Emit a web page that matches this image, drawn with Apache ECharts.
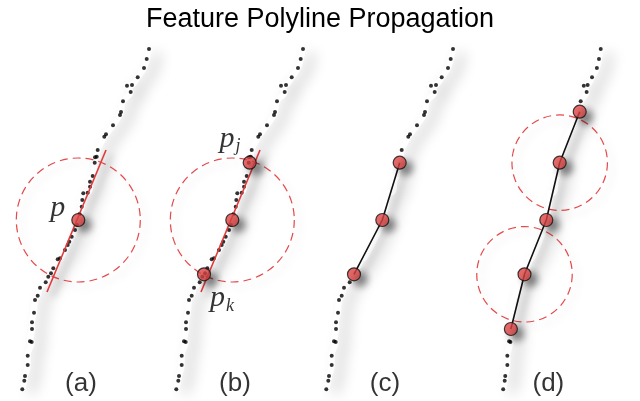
<!DOCTYPE html>
<html>
<head>
<meta charset="utf-8">
<script src="https://cdn.jsdelivr.net/npm/echarts@6/dist/echarts.min.js"></script>
<style>
  html, body { margin: 0; padding: 0; background: #fff; }
  #main { width: 640px; height: 401px; }
</style>
</head>
<body>
<div id="main"></div>
<script>
// panel names and their left edge (px) - every panel shows the same sampled curve
var panelNames = ['(a)', '(b)', '(c)', '(d)'];
var panelLeft = [0, 154, 304, 486];

var curveDots = [
  [149, 49], [146.7, 59], [144, 68], [137.7, 77.3], [132, 85], [127, 85.7], [130.7, 92],
  [123, 101.3], [121, 112], [120, 115], [113, 125.3], [106, 134.3], [104.3, 136.7],
  [97.7, 150], [96.7, 156.7], [95, 157.3], [94.7, 162.7], [92.7, 176], [90, 181.7],
  [90, 186.7], [87.7, 192.7], [83.3, 193.3], [82.3, 200], [81.7, 206.7], [79.5, 214],
  [77, 225], [75, 230], [71.7, 236.7], [69.3, 241.7], [67.7, 245], [65, 250], [60, 258.3],
  [57.7, 259.3], [53.3, 268.3], [51, 273.3], [48.3, 276.7], [45.7, 282.3], [40, 287.7],
  [37.7, 295.7], [35, 300], [34, 312.7], [32, 322.3], [32, 329], [30, 341.3], [31.7, 342],
  [27.7, 355.7], [27.7, 365], [25, 376], [24.3, 380.7], [22.3, 389.3]
];

// polyline nodes (bottom to top)
var nodes = [[32.3, 329], [50, 274.3], [78.3, 220], [95.7, 162.7], [121.7, 111.7]];
var tangent = [[106, 150], [47, 292]];
var radius = 62;
var captionPos = [81, 384];

// what each panel shows
var shownNodes = [[2], [1, 2, 3], [1, 2, 3], [0, 1, 2, 3, 4]];
var circleNodes = [[2], [2], [], [1, 3]];
var polyNodes = [[], [], [1, 2, 3], [0, 1, 2, 3, 4]];
var hasTangent = [true, true, false, false];
var hiddenDots = [null, null, [151, 280], [104, 336]];
var nodeNames = [{2: ['p', '']}, {3: ['p', 'j'], 1: ['p', 'k']}, {}, {}];

var shadow = { shadowColor: 'rgba(0,0,0,0.55)', shadowBlur: 7, shadowOffsetX: 6, shadowOffsetY: 5 };

var myChart = echarts.init(document.getElementById('main'));

var grids = [], xAxes = [], yAxes = [], series = [];

panelLeft.forEach(function (left, i) {
  grids.push({ left: left, top: 0, width: 200, height: 401 });
  xAxes.push({ type: 'value', gridIndex: i, min: 0, max: 200, show: false });
  yAxes.push({ type: 'value', gridIndex: i, min: 0, max: 401, inverse: true, show: false });

  var ax = { xAxisIndex: i, yAxisIndex: i };

  // soft shadow band along the curve
  series.push(Object.assign({
    type: 'line', data: curveDots, smooth: 0.4, symbol: 'none', silent: true, z: 1,
    lineStyle: { color: '#fff', width: 6, shadowColor: 'rgba(0,0,0,0.22)', shadowBlur: 14, shadowOffsetX: 9, shadowOffsetY: 4 }
  }, ax));

  var hide = hiddenDots[i];
  series.push(Object.assign({
    type: 'scatter', symbolSize: 4, z: 3, silent: true,
    itemStyle: { color: '#000' },
    data: curveDots.filter(function (d) { return !hide || d[1] < hide[0] || d[1] > hide[1]; })
  }, ax));

  if (circleNodes[i].length) {
    series.push(Object.assign({
      type: 'custom', z: 2, silent: true,
      data: circleNodes[i].map(function (k) { return [nodes[k][0], nodes[k][1], radius]; }),
      renderItem: function (params, api) {
        var c = api.coord([api.value(0), api.value(1)]);
        var r = api.size([api.value(2), 0])[0];
        return {
          type: 'circle',
          shape: { cx: c[0], cy: c[1], r: r },
          style: { fill: null, stroke: '#e5484a', lineWidth: 1.2, lineDash: [8, 5],
                   shadowColor: 'rgba(0,0,0,0.18)', shadowBlur: 8, shadowOffsetX: 5, shadowOffsetY: 5 }
        };
      }
    }, ax));
  }

  if (hasTangent[i]) {
    series.push(Object.assign({
      type: 'line', data: tangent, symbol: 'none', z: 4, silent: true,
      lineStyle: Object.assign({ color: '#e2393c', width: 1.6 }, shadow, { shadowColor: 'rgba(0,0,0,0.35)' })
    }, ax));
  }

  if (polyNodes[i].length) {
    series.push(Object.assign({
      type: 'line', data: polyNodes[i].map(function (k) { return nodes[k]; }), symbol: 'none', z: 4, silent: true,
      lineStyle: Object.assign({ color: '#111', width: 1.6 }, shadow, { shadowColor: 'rgba(0,0,0,0.4)' })
    }, ax));
  }

  series.push(Object.assign({
    type: 'scatter', symbolSize: 13, z: 5, silent: true,
    itemStyle: Object.assign({ color: '#e24646', borderColor: '#111', borderWidth: 1.2 }, shadow),
    data: shownNodes[i].map(function (k) {
      var item = { value: nodes[k] };
      var nm = nodeNames[i][k];
      if (nm) {
        var below = k < 2;
        item.label = {
          show: true,
          formatter: nm[1] ? '{p|' + nm[0] + '}{s|' + nm[1] + '}' : '{p|' + nm[0] + '}',
          position: below ? 'bottom' : 'left',
          distance: below ? 4 : 8,
          offset: below ? [18, -2] : (nm[1] ? [6, -24] : [2, -12]),
          rich: {
            p: { fontFamily: 'Liberation Serif', fontStyle: 'italic', fontSize: 30, color: '#000', lineHeight: 30, verticalAlign: 'top' },
            s: { fontFamily: 'Liberation Serif', fontStyle: 'italic', fontSize: 18, color: '#000', lineHeight: 18, verticalAlign: 'top', padding: [14, 0, 0, 1] }
          }
        };
      }
      return item;
    })
  }, ax));

  // panel caption
  series.push(Object.assign({
    type: 'scatter', symbolSize: 0, z: 6, silent: true,
    data: [captionPos],
    label: { show: true, position: 'inside', formatter: panelNames[i],
             fontFamily: 'Liberation Sans', fontSize: 26, color: '#000' }
  }, ax));
});

var option = {
  animation: false,
  backgroundColor: '#fff',
  title: {
    text: 'Feature Polyline Propagation',
    left: 'center',
    top: 1,
    textStyle: { fontFamily: 'Liberation Sans', fontSize: 27, fontWeight: 'normal', color: '#000' }
  },
  grid: grids,
  xAxis: xAxes,
  yAxis: yAxes,
  series: series
};
myChart.setOption(option);
</script>
</body>
</html>
